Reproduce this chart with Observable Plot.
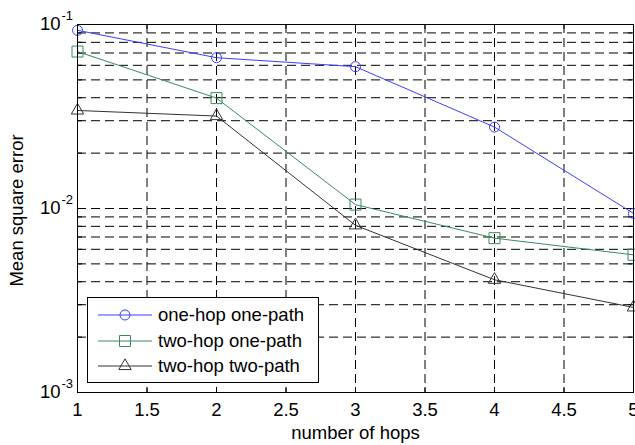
<!DOCTYPE html>
<html><head><meta charset="utf-8">
<script src="https://cdn.jsdelivr.net/npm/d3@7"></script>
<script src="https://cdn.jsdelivr.net/npm/@observablehq/plot@0.6"></script>
<style>
body{margin:0;background:#fff;}
#wrap{position:relative;width:635px;height:445px;font-family:"Liberation Sans",Arial,sans-serif;}
#legend{position:absolute;left:87px;top:297px;width:232px;height:86px;box-sizing:border-box;border:1px solid #000;background:#fff;}
#legend svg{display:block;}
</style></head><body><div id="wrap"></div>
<script>
const hops = [1, 2, 3, 4, 5];
const oneHopOnePath = [0.093, 0.066, 0.059, 0.0277, 0.0094];
const twoHopOnePath = [0.0713, 0.0398, 0.0105, 0.0069, 0.0056];
const twoHopTwoPath = [0.0341, 0.0318, 0.0081, 0.0041, 0.0029];
const seriesNames = ["one-hop one-path", "two-hop one-path", "two-hop two-path"];
const seriesColors = ["#3d3dff", "#3a8a60", "#333333"];
const seriesSymbols = ["circle", "square", "triangle"];
const seriesRadius = [5, 6.2, 4.6];
const xTicks = [1, 1.5, 2, 2.5, 3, 3.5, 4, 4.5, 5];
const xGrid = [1.5, 2, 2.5, 3, 3.5, 4, 4.5];
const yDecades = [1e-3, 1e-2, 1e-1];
const yExponents = ["-3", "-2", "-1"];
const yMinor = [0.002,0.003,0.004,0.005,0.006,0.007,0.008,0.009,0.01,0.02,0.03,0.04,0.05,0.06,0.07,0.08,0.09];
const xLabel = "number of hops";
const yLabel = "Mean square error";

const seriesValues = [oneHopOnePath, twoHopOnePath, twoHopTwoPath];
const data = seriesNames.flatMap((s, k) => hops.map((h, i) => ({hop: h, mse: seriesValues[k][i], series: s})));

const W = 635, H = 445, mL = 77, mR = 2, mT = 24, mB = 53;
const innerH = H - mT - mB, innerW = W - mL - mR;
const tick = 5;
const dash = "9,5";
const fs = 18.5;

const seriesMarks = seriesNames.flatMap((s, k) => {
  const d = data.filter(r => r.series === s);
  return [
    Plot.line(d, {x: "hop", y: "mse", stroke: seriesColors[k], strokeWidth: 1}),
    Plot.dot(d, {x: "hop", y: "mse", stroke: seriesColors[k], symbol: seriesSymbols[k], r: seriesRadius[k], fill: "none", strokeWidth: 1})
  ];
});

const chart = Plot.plot({
  width: W, height: H,
  marginLeft: mL, marginRight: mR, marginTop: mT, marginBottom: mB,
  style: {fontFamily: "'Liberation Sans', Arial, sans-serif", fontSize: fs + "px", color: "#000", background: "#fff", overflow: "visible"},
  x: {domain: [1, 5], axis: null},
  y: {type: "log", domain: [1e-3, 1e-1], axis: null},
  marks: [
    Plot.ruleY(yMinor, {y: d => d, stroke: "#000", strokeWidth: 1, strokeDasharray: dash}),
    Plot.ruleX(xGrid, {x: d => d, stroke: "#000", strokeWidth: 1, strokeDasharray: dash}),
    Plot.tickX(xTicks, {x: d => d, stroke: "#000", insetTop: innerH - tick}),
    Plot.tickX(xTicks, {x: d => d, stroke: "#000", insetBottom: innerH - tick}),
    Plot.tickY(yMinor.concat(yDecades), {y: d => d, stroke: "#000", insetRight: innerW - tick}),
    Plot.tickY(yMinor.concat(yDecades), {y: d => d, stroke: "#000", insetLeft: innerW - tick}),
    ...seriesMarks,
    Plot.frame({stroke: "#000", strokeWidth: 1}),
    Plot.text(xTicks, {x: d => d, frameAnchor: "bottom", dy: 18, textAnchor: "middle", lineAnchor: "middle", text: d => String(d), fontSize: fs}),
    Plot.text(yDecades, {y: d => d, frameAnchor: "left", dx: -17, textAnchor: "end", lineAnchor: "middle", text: () => "10", fontSize: fs}),
    Plot.text(yDecades, {y: d => d, frameAnchor: "left", dx: -16, dy: -9, textAnchor: "start", lineAnchor: "middle", text: (d, i) => yExponents[i], fontSize: 13}),
    Plot.text([xLabel], {frameAnchor: "bottom", dy: 41, textAnchor: "middle", lineAnchor: "middle", text: d => d, fontSize: fs}),
    Plot.text([yLabel], {frameAnchor: "left", dx: -60, dy: 2, textAnchor: "middle", lineAnchor: "middle", rotate: -90, text: d => d, fontSize: fs})
  ]
});
const wrap = document.getElementById("wrap");
wrap.appendChild(chart);

// legend
const leg = document.createElement("div");
leg.id = "legend";
wrap.appendChild(leg);
const svg = d3.select(leg).append("svg").attr("width", 230).attr("height", 84);
const rowY = [17, 43, 68];
seriesNames.forEach((s, k) => {
  const g = svg.append("g").attr("transform", `translate(0,${rowY[k]})`);
  g.append("line").attr("x1", 10).attr("x2", 64).attr("y1", 0).attr("y2", 0).attr("stroke", seriesColors[k]).attr("stroke-width", 1);
  const sym = {circle: d3.symbolCircle, square: d3.symbolSquare, triangle: d3.symbolTriangle}[seriesSymbols[k]];
  g.append("path").attr("transform", "translate(37,0)").attr("d", d3.symbol(sym, Math.PI * seriesRadius[k] ** 2)()).attr("fill", "none").attr("stroke", seriesColors[k]);
  g.append("text").attr("x", 70).attr("y", 0).attr("dy", "0.35em").attr("font-size", fs).attr("font-family", "'Liberation Sans', Arial, sans-serif").attr("fill", "#000").text(s);
});
</script>
</body></html>
